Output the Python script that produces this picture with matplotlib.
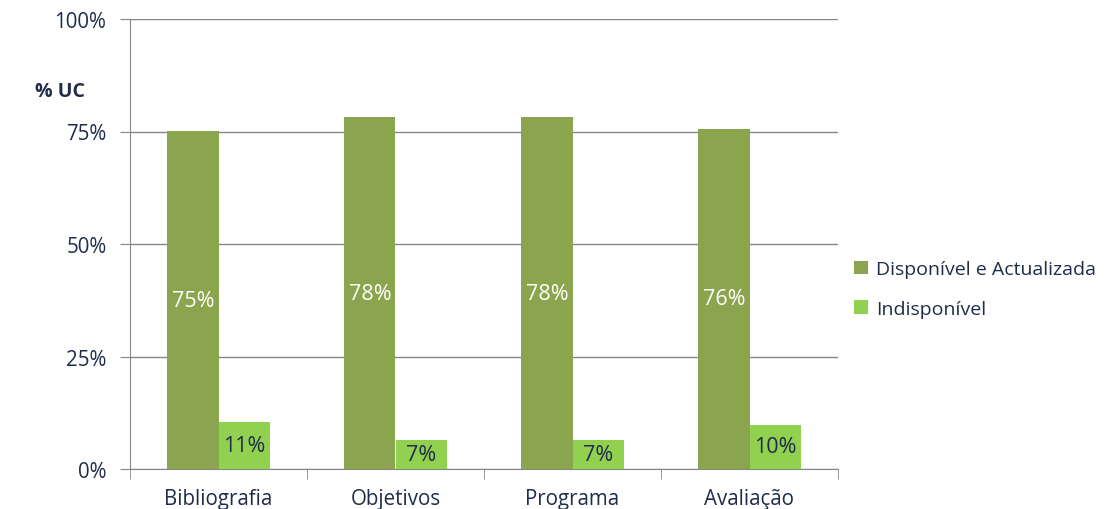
import matplotlib
matplotlib.use("Agg")
import matplotlib.pyplot as plt
import numpy as np

categories = ["Bibliografia", "Objetivos", "Programa", "Avaliação"]
disponivel = [75.1, 78.2, 78.2, 75.6]
indisponivel = [10.4, 6.5, 6.5, 9.8]
disp_labels = ["75%", "78%", "78%", "76%"]
indisp_labels = ["11%", "7%", "7%", "10%"]
series_names = ["Disponível e Actualizada", "Indisponível"]
yticks = [0, 25, 50, 75, 100]
ytick_labels = ["0%", "25%", "50%", "75%", "100%"]

plt.rcParams['font.family'] = ['Open Sans', 'DejaVu Sans']
txt = '#1F2D4A'
c_dark = '#8BA54E'
c_light = '#92D050'

fig = plt.figure(figsize=(11.06, 5.10), dpi=100)
ax = fig.add_axes([130/1106, 40/510, (838-130)/1106, 450/510])

x = np.arange(len(categories))
w = 0.29
b1 = ax.bar(x - w/2, disponivel, w, color=c_dark, label=series_names[0], zorder=3)
b2 = ax.bar(x + w/2, indisponivel, w, color=c_light, label=series_names[1], zorder=3)

for rect, lab in zip(b1, disp_labels):
    ax.text(rect.get_x() + rect.get_width()/2, rect.get_height()/2, lab,
            ha='center', va='center', color='white', fontsize=15.5, zorder=4)
for rect, lab in zip(b2, indisp_labels):
    ax.text(rect.get_x() + rect.get_width()/2, rect.get_height()/2, lab,
            ha='center', va='center', color=txt, fontsize=15.5, zorder=4)

ax.set_xlim(-0.5, len(categories) - 0.5)
ax.set_ylim(0, 100)
ax.set_yticks(yticks)
ax.set_yticklabels(ytick_labels, fontsize=14.8, color=txt)
ax.yaxis.grid(True, color='#868686', linewidth=1, zorder=0)
ax.set_axisbelow(True)

ax.set_xticks(x)
ax.set_xticklabels(categories, fontsize=14.8, color=txt)
ax.tick_params(axis='x', length=0, pad=14)
ax.set_xticks(np.arange(len(categories) + 1) - 0.5, minor=True)
ax.tick_params(axis='x', which='minor', length=7, color='#868686', direction='out')
ax.tick_params(axis='y', length=7, color='#868686', direction='out', pad=10)

for s in ['top', 'right']:
    ax.spines[s].set_visible(False)
ax.spines['left'].set_color('#868686')
ax.spines['bottom'].set_color('#868686')

fig.text(35/1106, 1 - 92/510, "% UC", fontsize=14, fontweight='bold', color=txt,
         ha='left', va='center')

leg = ax.legend(loc='center left', bbox_to_anchor=(1.0 + 16/708, (470-290)/450),
                frameon=False, fontsize=14, handlelength=0.7, handleheight=0.7,
                labelspacing=1.1, handletextpad=0.45, borderpad=0, borderaxespad=0)
for t in leg.get_texts():
    t.set_color(txt)

fig.savefig("out.png", dpi=100)
